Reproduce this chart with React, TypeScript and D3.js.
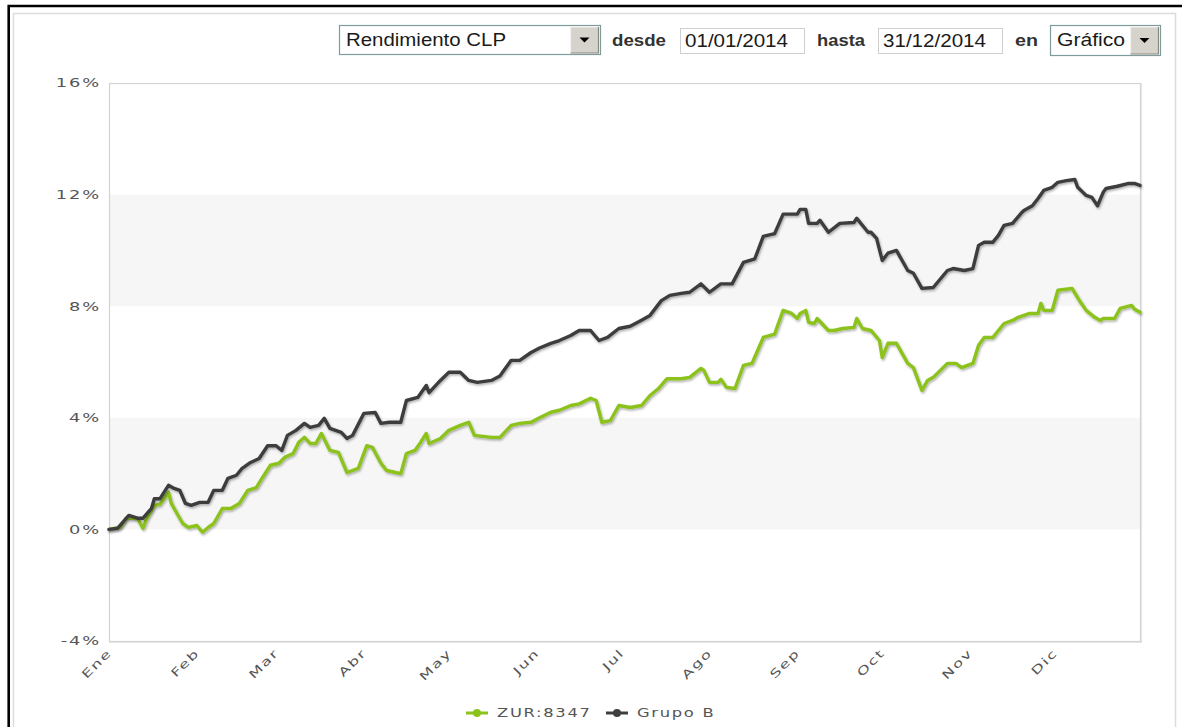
import React from 'react';
import * as d3 from 'd3';

const monthLabels = ['Ene', 'Feb', 'Mar', 'Abr', 'May', 'Jun', 'Jul', 'Ago', 'Sep', 'Oct', 'Nov', 'Dic'];
const yTicks = [-4, 0, 4, 8, 12, 16];
const bandRanges: [number, number][] = [[0, 4], [8, 12]];
const seriesNames = ['ZUR:8347', 'Grupo B'];

// ZUR:8347 (green) — day of year offset from 01/01/2014, cumulative return %
const zurDays = [0, 4, 6, 10, 12, 13, 16, 18, 21, 22, 24, 26, 28, 31, 33, 35, 37, 40, 43, 46, 49, 52, 54, 57, 60, 62, 65, 67, 69, 71, 73, 75, 78, 81, 84, 88, 91, 93, 96, 98, 103, 105, 108, 110, 112, 113, 117, 120, 124, 127, 129, 135, 138, 142, 145, 149, 152, 156, 159, 163, 166, 170, 172, 174, 177, 180, 184, 188, 191, 194, 197, 202, 205, 209, 210, 212, 215, 216, 218, 221, 224, 227, 231, 235, 238, 241, 243, 244, 246, 247, 249, 250, 254, 256, 259, 263, 264, 266, 269, 272, 273, 275, 278, 282, 284, 287, 289, 291, 296, 299, 301, 305, 307, 309, 312, 316, 319, 321, 325, 328, 329, 330, 333, 335, 340, 343, 345, 348, 350, 351, 355, 357, 361, 362, 364];
const zurValues = [0, 0.07, 0.4, 0.4, 0.04, 0.32, 0.86, 0.9, 1.33, 0.93, 0.57, 0.22, 0.07, 0.14, -0.1, 0.07, 0.22, 0.75, 0.75, 0.93, 1.4, 1.5, 1.83, 2.3, 2.37, 2.58, 2.72, 3.12, 3.3, 3.08, 3.08, 3.44, 2.83, 2.76, 2.04, 2.19, 3.0, 2.94, 2.37, 2.11, 2.0, 2.72, 2.83, 3.12, 3.44, 3.08, 3.26, 3.55, 3.73, 3.84, 3.37, 3.3, 3.3, 3.73, 3.8, 3.84, 4.0, 4.2, 4.27, 4.44, 4.5, 4.7, 4.62, 3.84, 3.9, 4.44, 4.37, 4.44, 4.8, 5.05, 5.4, 5.4, 5.45, 5.77, 5.7, 5.27, 5.27, 5.38, 5.09, 5.05, 5.88, 5.95, 6.88, 7.0, 7.85, 7.74, 7.56, 7.74, 7.85, 7.42, 7.38, 7.56, 7.13, 7.13, 7.2, 7.24, 7.56, 7.2, 7.13, 6.77, 6.16, 6.67, 6.67, 5.95, 5.8, 4.98, 5.34, 5.45, 5.95, 5.95, 5.8, 5.95, 6.6, 6.88, 6.88, 7.38, 7.49, 7.6, 7.74, 7.74, 8.1, 7.85, 7.85, 8.57, 8.64, 8.14, 7.85, 7.6, 7.49, 7.56, 7.56, 7.92, 8.03, 7.9, 7.78];

// Grupo B (dark grey)
const grupoDays = [0, 3, 7, 10, 12, 15, 16, 18, 21, 23, 25, 27, 29, 32, 35, 37, 40, 42, 45, 47, 50, 53, 56, 59, 61, 63, 66, 69, 71, 74, 76, 78, 82, 84, 86, 90, 94, 96, 99, 103, 105, 109, 112, 113, 117, 120, 124, 127, 130, 135, 138, 142, 145, 149, 152, 156, 159, 163, 166, 170, 173, 176, 180, 184, 188, 191, 195, 198, 202, 205, 209, 212, 216, 220, 224, 228, 231, 235, 238, 243, 244, 246, 247, 250, 251, 254, 258, 263, 264, 268, 269, 271, 273, 275, 278, 282, 284, 287, 291, 296, 298, 302, 305, 307, 309, 312, 314, 316, 319, 322, 323, 326, 328, 330, 333, 335, 338, 341, 342, 345, 347, 349, 351, 352, 356, 360, 362, 364];
const grupoValues = [0, 0.04, 0.5, 0.4, 0.4, 0.75, 1.1, 1.1, 1.58, 1.47, 1.4, 0.93, 0.86, 0.97, 0.97, 1.4, 1.4, 1.83, 1.94, 2.19, 2.4, 2.54, 3.0, 3.0, 2.83, 3.37, 3.55, 3.8, 3.66, 3.73, 3.98, 3.62, 3.48, 3.26, 3.37, 4.16, 4.19, 3.8, 3.84, 3.84, 4.62, 4.73, 5.16, 4.9, 5.34, 5.63, 5.63, 5.34, 5.27, 5.34, 5.5, 6.06, 6.06, 6.34, 6.5, 6.67, 6.77, 6.95, 7.13, 7.13, 6.77, 6.88, 7.2, 7.28, 7.5, 7.67, 8.2, 8.39, 8.46, 8.5, 8.8, 8.5, 8.8, 8.8, 9.57, 9.7, 10.5, 10.6, 11.3, 11.3, 11.47, 11.47, 10.97, 10.97, 11.08, 10.65, 10.97, 11.0, 11.15, 10.65, 10.65, 10.43, 9.64, 9.9, 10.0, 9.28, 9.18, 8.64, 8.67, 9.28, 9.35, 9.28, 9.35, 10.18, 10.29, 10.29, 10.54, 10.9, 10.97, 11.33, 11.43, 11.6, 11.86, 12.15, 12.26, 12.44, 12.5, 12.54, 12.26, 11.97, 11.9, 11.6, 12.08, 12.22, 12.3, 12.4, 12.4, 12.33];

const GREEN = '#8cc21c';
const DARK = '#3e3e3e';
const TICK_FONT = '"DejaVu Sans", Verdana, sans-serif';
const UI_FONT = '"Liberation Sans", Arial, sans-serif';

const START = new Date(2014, 0, 1);
const END = new Date(2014, 11, 31);

type Pt = { date: Date; value: number };
const toPts = (days: number[], vals: number[]): Pt[] =>
  days.map((d, i) => ({ date: d3.timeDay.offset(START, d), value: vals[i] }));

const Select = ({ x, y, w, h, label, textLen }: { x: number; y: number; w: number; h: number; label: string; textLen: number }) => {
  const bw = 28;
  const bx = x + w - bw - 1.5;
  return (
    <g>
      <rect x={x + 0.5} y={y + 0.5} width={w} height={h} fill="#fff" stroke="#7e9c9c" strokeWidth={1.2} />
      <text x={x + 7} y={y + h / 2 + 6} fontFamily={UI_FONT} fontSize={18} fill="#1a1a1a" textLength={textLen} lengthAdjust="spacingAndGlyphs">{label}</text>
      <rect x={bx} y={y + 2} width={bw} height={h - 3} fill="#d6d3cc" />
      <path d={`M${bx},${y + h - 1}V${y + 2}H${bx + bw}`} fill="none" stroke="#f4f3f0" strokeWidth={1.2} />
      <path d={`M${bx},${y + h - 1}H${bx + bw}V${y + 2}`} fill="none" stroke="#8a877f" strokeWidth={1.2} />
      <path d={`M${bx + bw / 2 - 5},${y + h / 2 - 2}h10l-5,5z`} fill="#000" />
    </g>
  );
};

const Input = ({ x, y, w, h, label }: { x: number; y: number; w: number; h: number; label: string }) => (
  <g>
    <rect x={x + 0.5} y={y + 0.5} width={w} height={h} fill="#fff" stroke="#cfcfcf" strokeWidth={1} />
    <text x={x + 5} y={y + h / 2 + 6.5} fontFamily={UI_FONT} fontSize={18} fill="#1a1a1a" textLength={103} lengthAdjust="spacingAndGlyphs">{label}</text>
  </g>
);

export default function App() {
  const W = 1182;
  const H = 727;
  const left = 109, right = 1140, top = 83, bottom = 641;

  const x = d3.scaleTime().domain([START, END]).range([left, right]);
  const y = d3.scaleLinear().domain([-4, 16]).range([bottom, top]);

  const line = d3.line<Pt>().x(d => x(d.date)).y(d => y(d.value));
  const zur = toPts(zurDays, zurValues);
  const grupo = toPts(grupoDays, grupoValues);
  const months = d3.timeMonth.range(START, END);

  const labelStyle = { fontFamily: TICK_FONT, fontSize: 11.5, fill: '#555', letterSpacing: 1.2 } as const;

  return (
    <svg width={W} height={H} style={{ position: 'absolute', left: 0, top: 0, background: '#fff' }}>
      <defs>
        <filter id="shadow" x="-5%" y="-5%" width="110%" height="110%">
          <feDropShadow dx={1} dy={1.5} stdDeviation={1.1} floodColor="#000" floodOpacity={0.32} />
        </filter>
      </defs>
      {/* outer frames */}
      <path d={`M8.7,${H}V6H${W}`} fill="none" stroke="#000" strokeWidth={2.6} />
      <path d={`M13.5,${H}V13.5H1175.5V${H}`} fill="none" stroke="#dcdcdc" strokeWidth={1.5} />

      {/* controls */}
      <Select x={339} y={25} w={261} h={29} label="Rendimiento CLP" textLen={160} />
      <text x={612} y={46} fontFamily={UI_FONT} fontSize={17} fontWeight="bold" fill="#333" textLength={54} lengthAdjust="spacingAndGlyphs">desde</text>
      <Input x={680} y={28} w={124} h={25} label="01/01/2014" />
      <text x={817} y={46} fontFamily={UI_FONT} fontSize={17} fontWeight="bold" fill="#333" textLength={48} lengthAdjust="spacingAndGlyphs">hasta</text>
      <Input x={878} y={28} w={124} h={25} label="31/12/2014" />
      <text x={1015} y={46} fontFamily={UI_FONT} fontSize={17} fontWeight="bold" fill="#333" textLength={23} lengthAdjust="spacingAndGlyphs">en</text>
      <Select x={1050} y={25} w={110} h={30} label="Gráfico" textLen={68} />

      {/* plot background and bands */}
      <rect x={left} y={top} width={right - left} height={bottom - top} fill="#fff" />
      {bandRanges.map(([a, b], i) => (
        <rect key={i} x={left} y={y(b)} width={right - left} height={y(a) - y(b)} fill="#f6f6f6" />
      ))}
      <rect x={left + 0.5} y={top + 0.5} width={right - left} height={bottom - top} fill="none" stroke="#d2d2d2" strokeWidth={1.2} />
      <path d={`M${left},${bottom + 1.5}H${right + 1.5}V${top}`} fill="none" stroke="#e6e6e6" strokeWidth={1.2} />

      {/* y axis labels */}
      {yTicks.map(t => (
        <text key={t} transform={`translate(101,${y(t)}) scale(1.55,1)`} dy="0.38em" textAnchor="end" style={labelStyle}>
          {`${t}%`}
        </text>
      ))}

      {/* x axis labels */}
      {months.map((m, i) => (
        <text key={i} transform={`translate(${x(m) + 1},${bottom + 10}) rotate(-45) scale(1.45,1)`} textAnchor="end" dy="0.3em" style={labelStyle}>
          {monthLabels[m.getMonth()]}
        </text>
      ))}

      {/* series */}
      <path d={line(zur) ?? ''} fill="none" stroke={GREEN} strokeWidth={3.4} strokeLinejoin="round" strokeLinecap="round" filter="url(#shadow)" />
      <path d={line(grupo) ?? ''} fill="none" stroke={DARK} strokeWidth={3.4} strokeLinejoin="round" strokeLinecap="round" filter="url(#shadow)" />

      {/* legend */}
      {seriesNames.map((name, i) => {
        const lx = i === 0 ? 466 : 606;
        const col = i === 0 ? GREEN : DARK;
        return (
          <g key={name}>
            <line x1={lx} x2={lx + 22} y1={713} y2={713} stroke={col} strokeWidth={3} />
            <circle cx={lx + 11} cy={713} r={4} fill={col} />
            <text transform={`translate(${lx + 31},717) scale(1.42,1)`} style={labelStyle}>{name}</text>
          </g>
        );
      })}
    </svg>
  );
}
